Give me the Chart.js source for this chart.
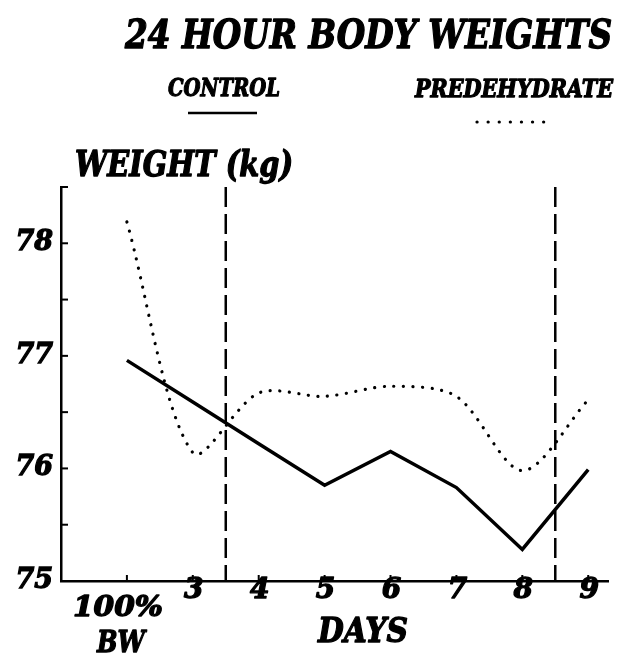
<!DOCTYPE html>
<html>
<head>
<meta charset="utf-8">
<script src="https://cdn.jsdelivr.net/npm/chart.js@4.4.1/dist/chart.umd.min.js"></script>
<style>
  html, body { margin: 0; padding: 0; background: #fff; }
  #wrap { width: 617px; height: 659px; position: relative; }
</style>
</head>
<body>
<div id="wrap"><canvas id="c" width="617" height="659"></canvas></div>
<script>
// ---- data ----
const TITLE = '24 HOUR BODY WEIGHTS';
const Y_TITLE = 'WEIGHT (kg)';
const X_TITLE = 'DAYS';
const X_LABELS = [['100%', 'BW'], '3', '4', '5', '6', '7', '8', '9'];
const SERIES_NAMES = ['CONTROL', 'PREDEHYDRATE'];
const CONTROL = [76.96, 76.59, 76.22, 75.85, 76.15, 75.83, 75.28, 75.99];
const PREDEHYDRATE = [78.19, 76.14, 76.67, 76.64, 76.73, 76.64, 75.98, 76.61];
const Y_TICKS = [75, 76, 77, 78];
const Y_MINOR_STEP = 0.5;
const PHASE_BOUNDARIES = [1.5, 6.5]; // between day 3/4 and day 8/9

const FONT = '"DejaVu Serif", "Liberation Serif", serif';

function txt(ctx, s, x, y, size, w, align, stroke) {
  ctx.save();
  ctx.font = `italic bold ${size}px ${FONT}`;
  ctx.textBaseline = 'alphabetic';
  ctx.fillStyle = '#000';
  ctx.strokeStyle = '#000';
  const m = ctx.measureText(s).width;
  const sx = w ? w / m : 1;
  ctx.translate(x, y);
  ctx.scale(sx, 1);
  ctx.textAlign = align || 'left';
  ctx.fillText(s, 0, 0);
  ctx.lineWidth = stroke == null ? 1.2 : stroke;
  ctx.lineJoin = 'round';
  if (ctx.lineWidth > 0) ctx.strokeText(s, 0, 0);
  ctx.restore();
}

const decor = {
  id: 'decor',
  afterDraw(chart) {
    const ctx = chart.ctx;
    const xs = chart.scales.x, ys = chart.scales.y;
    const area = chart.chartArea;

    // title & axis titles
    txt(ctx, TITLE, 125, 48, 40, 487, 'left', 1.4);
    txt(ctx, Y_TITLE, 75, 176, 36, 218, 'left', 1.4);
    txt(ctx, X_TITLE, 318, 642, 33, 90, 'left', 1.3);

    // legend
    const ds = chart.data.datasets;
    txt(ctx, ds[0].label, 168, 96, 24, 112, 'left', 1.3);
    txt(ctx, ds[1].label, 415, 97, 24, 198, 'left', 1.3);
    ctx.save();
    ctx.strokeStyle = '#000';
    ctx.lineWidth = 2.5;
    ctx.beginPath(); ctx.moveTo(188, 113); ctx.lineTo(257, 113); ctx.stroke();
    ctx.lineWidth = 3.2;
    ctx.lineCap = 'round';
    ctx.setLineDash([0.1, 11]);
    ctx.beginPath(); ctx.moveTo(477, 122); ctx.lineTo(544, 122); ctx.stroke();
    ctx.restore();

    // y minor ticks (inward)
    ctx.save();
    ctx.strokeStyle = '#000';
    ctx.lineWidth = 2;
    for (let v = ys.min + Y_MINOR_STEP; v <= ys.max + 1e-9; v += Y_MINOR_STEP) {
      const py = ys.getPixelForValue(v);
      ctx.beginPath(); ctx.moveTo(area.left, py); ctx.lineTo(area.left + 7, py); ctx.stroke();
    }
    // x ticks (inward)
    X_LABELS.forEach((l, i) => {
      const px = xs.getPixelForValue(i);
      ctx.beginPath(); ctx.moveTo(px, area.bottom); ctx.lineTo(px, area.bottom - 6); ctx.stroke();
    });
    // phase boundaries
    ctx.lineWidth = 2.5;
    ctx.setLineDash([20, 7]);
    PHASE_BOUNDARIES.forEach(b => {
      const px = xs.getPixelForValue(b);
      ctx.beginPath();
      ctx.moveTo(px, ys.getPixelForValue(ys.max));
      ctx.lineTo(px, ys.getPixelForValue(ys.min));
      ctx.stroke();
    });
    ctx.restore();

    // x tick labels
    X_LABELS.forEach((l, i) => {
      const px = xs.getPixelForValue(i);
      if (Array.isArray(l)) {
        txt(ctx, l[0], px - 9, 616, 28, 90, 'center', 1.3);
        txt(ctx, l[1], px - 6, 652, 30, 48, 'center', 1.3);
      } else {
        txt(ctx, l, px + 1, 598, 28, null, 'center', 1.3);
      }
    });
  }
};

new Chart(document.getElementById('c'), {
  type: 'line',
  data: {
    datasets: [
      {
        label: SERIES_NAMES[0],
        data: CONTROL.map((v, i) => ({ x: i, y: v })),
        borderColor: '#000',
        borderWidth: 3.5,
        tension: 0,
        pointRadius: 0,
        fill: false
      },
      {
        label: SERIES_NAMES[1],
        data: PREDEHYDRATE.map((v, i) => ({ x: i, y: v })),
        borderColor: '#000',
        borderWidth: 3.2,
        borderDash: [0.1, 9.5],
        borderCapStyle: 'round',
        tension: 0.3,
        pointRadius: 0,
        fill: false
      }
    ]
  },
  options: {
    responsive: false,
    animation: false,
    devicePixelRatio: 1,
    layout: { padding: { left: 0, top: 187, right: 9, bottom: 78 } },
    plugins: { legend: { display: false }, title: { display: false }, tooltip: { enabled: false } },
    scales: {
      x: {
        type: 'linear',
        min: -1,
        max: 7.3,
        ticks: { display: false },
        grid: { display: false },
        border: { display: true, color: '#000', width: 2.5 },
        afterFit(s) { s.height = 0; }
      },
      y: {
        type: 'linear',
        min: 75,
        max: 78.5,
        afterBuildTicks(s) {
          const t = [];
          for (let v = s.min; v <= s.max + 1e-9; v += Y_MINOR_STEP) t.push({ value: Math.round(v * 10) / 10 });
          s.ticks = t;
        },
        ticks: {
          color: '#000',
          padding: 8,
          textStrokeColor: '#000',
          textStrokeWidth: 1.3,
          font: { family: FONT, size: 27, style: 'italic', weight: 'bold' },
          callback: v => (Y_TICKS.includes(v) ? String(v) : '')
        },
        grid: { display: false, drawTicks: false },
        border: { display: true, color: '#000', width: 2.5 },
        afterFit(s) { s.width = 61; }
      }
    }
  },
  plugins: [decor]
});
</script>
</body>
</html>
